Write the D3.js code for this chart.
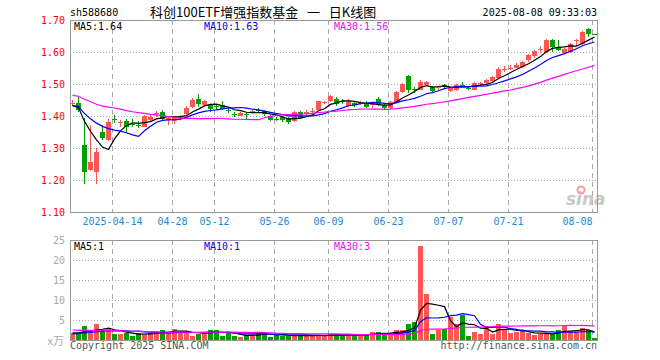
<!DOCTYPE html>
<html>
<head>
<meta charset="utf-8">
<script src="https://cdn.jsdelivr.net/npm/d3@7"></script>
<style>
  body { margin: 0; background: #fff; }
  svg { display: block; }
</style>
</head>
<body>
<svg id="chart"></svg>
<script>
// trading days shown (2025)
const dates = [
  "04-02","04-03","04-07","04-08","04-09","04-10","04-11","04-14","04-15","04-16",
  "04-17","04-18","04-21","04-22","04-23","04-24","04-25","04-28","04-29","04-30",
  "05-06","05-07","05-08","05-09","05-12","05-13","05-14","05-15","05-16","05-19",
  "05-20","05-21","05-22","05-23","05-26","05-27","05-28","05-29","05-30","06-03",
  "06-04","06-05","06-06","06-09","06-10","06-11","06-12","06-13","06-16","06-17",
  "06-18","06-19","06-20","06-23","06-24","06-25","06-26","06-27","06-30","07-01",
  "07-02","07-03","07-04","07-07","07-08","07-09","07-10","07-11","07-14","07-15",
  "07-16","07-17","07-18","07-21","07-22","07-23","07-24","07-25","07-28","07-29",
  "07-30","07-31","08-01","08-04","08-05","08-06","08-07","08-08"
];

const open = [
  1.441,1.441,1.310,1.232,1.224,1.349,1.324,1.392,1.377,1.383,
  1.376,1.373,1.367,1.388,1.408,1.413,1.388,1.385,1.392,1.405,
  1.428,1.454,1.433,1.433,1.432,1.435,1.420,1.405,1.401,1.406,
  1.416,1.418,1.415,1.400,1.392,1.398,1.394,1.383,1.413,1.407,
  1.416,1.420,1.443,1.448,1.454,1.447,1.432,1.441,1.440,1.442,
  1.434,1.454,1.433,1.424,1.441,1.474,1.526,1.483,1.482,1.498,
  1.491,1.489,1.496,1.477,1.482,1.498,1.489,1.482,1.501,1.502,
  1.508,1.520,1.545,1.550,1.551,1.554,1.576,1.588,1.608,1.600,
  1.637,1.617,1.598,1.601,1.634,1.624,1.672,1.656
];
const high = [
  1.451,1.459,1.395,1.373,1.300,1.373,1.391,1.404,1.386,1.390,
  1.391,1.383,1.404,1.404,1.416,1.418,1.397,1.400,1.404,1.430,
  1.455,1.470,1.450,1.437,1.436,1.448,1.425,1.412,1.411,1.412,
  1.420,1.424,1.420,1.402,1.397,1.400,1.396,1.415,1.416,1.418,
  1.424,1.448,1.447,1.467,1.458,1.454,1.452,1.444,1.446,1.446,
  1.443,1.458,1.437,1.446,1.477,1.503,1.528,1.490,1.512,1.508,
  1.494,1.494,1.499,1.492,1.500,1.505,1.494,1.505,1.507,1.515,
  1.525,1.552,1.556,1.558,1.566,1.572,1.595,1.607,1.618,1.640,
  1.640,1.637,1.612,1.628,1.640,1.665,1.675,1.656
];
const low = [
  1.432,1.414,1.187,1.228,1.187,1.324,1.322,1.378,1.367,1.347,
  1.367,1.362,1.365,1.385,1.398,1.385,1.372,1.375,1.386,1.402,
  1.425,1.428,1.430,1.414,1.420,1.420,1.408,1.398,1.399,1.389,
  1.410,1.412,1.401,1.384,1.385,1.382,1.375,1.381,1.392,1.404,
  1.410,1.418,1.437,1.445,1.431,1.437,1.428,1.428,1.433,1.425,
  1.424,1.432,1.422,1.422,1.438,1.472,1.472,1.473,1.480,1.495,
  1.475,1.480,1.485,1.474,1.479,1.490,1.480,1.480,1.497,1.500,
  1.506,1.518,1.538,1.543,1.549,1.550,1.570,1.582,1.598,1.597,
  1.600,1.603,1.595,1.598,1.618,1.622,1.646,1.654
];
const close = [
  1.442,1.420,1.224,1.255,1.286,1.330,1.380,1.391,1.381,1.367,
  1.375,1.372,1.401,1.397,1.409,1.392,1.393,1.396,1.399,1.425,
  1.450,1.437,1.447,1.423,1.429,1.423,1.418,1.404,1.409,1.405,
  1.417,1.417,1.405,1.388,1.391,1.388,1.380,1.413,1.394,1.413,
  1.417,1.446,1.444,1.461,1.438,1.446,1.448,1.435,1.441,1.427,
  1.441,1.435,1.425,1.444,1.476,1.501,1.482,1.481,1.505,1.505,
  1.479,1.491,1.490,1.488,1.498,1.492,1.487,1.502,1.502,1.512,
  1.521,1.548,1.547,1.551,1.559,1.568,1.590,1.602,1.609,1.638,
  1.617,1.607,1.608,1.625,1.636,1.662,1.655,1.655
];
// volume, x万
const volume = [
  1.8,1.4,3.4,2.3,3.9,2.2,3.0,1.4,1.4,1.8,
  1.0,1.8,1.3,1.8,2.2,2.4,1.8,2.8,2.0,2.0,
  1.0,1.5,1.9,2.4,2.6,1.0,1.8,1.0,0.7,1.3,
  1.2,2.0,2.0,0.8,1.2,1.0,1.1,1.3,1.0,1.1,
  1.0,1.3,1.2,1.6,1.2,1.2,1.2,1.2,1.2,1.6,
  2.0,2.1,1.4,1.5,2.6,2.6,3.9,4.5,23.4,11.4,
  1.6,2.5,2.8,5.8,3.9,6.3,1.1,2.0,1.6,3.6,
  1.6,3.9,2.6,1.8,2.0,2.2,1.8,1.2,1.5,1.6,
  1.6,2.6,3.4,2.0,2.0,2.9,2.5,0.4
];

// days before the window, only used to start the moving averages (estimated from the MA lines)
const histClose = [
  1.50,1.51,1.49,1.52,1.50,1.48,1.47,1.49,1.50,1.48,
  1.46,1.47,1.48,1.47,1.46,1.47,1.48,1.46,1.45,1.46,
  1.46,1.44,1.42,1.42,1.43,1.45,1.44,1.41,1.42
];
const histVolume = [
  3.5,2.8,4.1,3.2,2.6,3.0,3.8,2.9,2.5,3.3,
  2.7,2.4,3.1,2.8,3.6,2.6,2.9,2.3,2.7,2.7,
  1.2,1.4,1.3,1.5,1.1,1.6,2.0,1.9,1.7
];

const priceTicks = [1.10, 1.20, 1.30, 1.40, 1.50, 1.60, 1.70];
const volTicks = [5, 10, 15, 20, 25];
const tickDates = ["04-14","04-28","05-12","05-26","06-09","06-23","07-07","07-21","08-08"];
const tickLabels = ["2025-04-14","04-28","05-12","05-26","06-09","06-23","07-07","07-21","08-08"];
const priceMaText = ["MA5:1.64", "MA10:1.63", "MA30:1.56"];
const volMaText = ["MA5:1", "MA10:1", "MA30:3"];

const width = 660, height = 360;
const red = "#ff5555", green = "#00a000";
const maColors = ["#000000", "#0000ff", "#ff00ff"];
const mono = "'DejaVu Sans Mono', 'Liberation Mono', monospace";

const svg = d3.select("#chart").attr("width", width).attr("height", height);

const x = d3.scaleLinear().domain([0, dates.length]).range([70, 598]);
const y = d3.scaleLinear().domain([1.10, 1.70]).range([212, 20]);
const yv = d3.scaleLinear().domain([0, 25]).range([340, 240]);
const bw = 5;

function movingAvg(hist, vals, n) {
  const all = hist.concat(vals);
  return vals.map((v, i) => d3.mean(all.slice(i + hist.length - n + 1, i + hist.length + 1)));
}

// grid
const grid = svg.append("g").attr("stroke", "#a8a8a8").attr("stroke-width", 1);
priceTicks.slice(1, -1).forEach(t => {
  grid.append("line").attr("x1", 70).attr("x2", 597)
    .attr("y1", Math.round(y(t)) + 0.5).attr("y2", Math.round(y(t)) + 0.5)
    .attr("stroke-dasharray", "1,2");
});
volTicks.slice(0, -1).forEach(t => {
  grid.append("line").attr("x1", 70).attr("x2", 597)
    .attr("y1", Math.round(yv(t)) + 0.5).attr("y2", Math.round(yv(t)) + 0.5)
    .attr("stroke-dasharray", "1,2");
});
tickDates.forEach(d => {
  const xx = Math.round(x(dates.indexOf(d))) + 0.5;
  grid.append("line").attr("x1", xx).attr("x2", xx).attr("y1", 20).attr("y2", 212)
    .attr("stroke-dasharray", "5,4");
  grid.append("line").attr("x1", xx).attr("x2", xx).attr("y1", 240).attr("y2", 340)
    .attr("stroke-dasharray", "5,4");
});

// watermark
const wm = svg.append("g");
wm.append("text").attr("x", 566).attr("y", 205).text("sina")
  .style("font", "italic bold 17px 'DejaVu Sans'").attr("fill", "#c8c8c8");
wm.append("circle").attr("cx", 581).attr("cy", 190).attr("r", 3.5)
  .attr("fill", "none").attr("stroke", "#f2a0a0").attr("stroke-width", 2);

// candles
const candles = svg.append("g").attr("shape-rendering", "crispEdges");
dates.forEach((d, i) => {
  const c = close[i] >= open[i] ? red : green;
  const x0 = Math.round(x(i));
  candles.append("line")
    .attr("x1", x0 + 2.5).attr("x2", x0 + 2.5)
    .attr("y1", y(high[i])).attr("y2", y(low[i]))
    .attr("stroke", c);
  const top = Math.min(y(open[i]), y(close[i]));
  candles.append("rect")
    .attr("x", x0).attr("width", bw)
    .attr("y", top)
    .attr("height", Math.max(1, Math.abs(y(open[i]) - y(close[i]))))
    .attr("fill", c);
});

// volume bars
svg.append("g").attr("shape-rendering", "crispEdges")
  .selectAll("rect").data(volume).enter().append("rect")
  .attr("x", (d, i) => Math.round(x(i)))
  .attr("width", bw)
  .attr("y", d => yv(d))
  .attr("height", d => yv(0) - yv(d))
  .attr("fill", (d, i) => close[i] >= open[i] ? red : green);

// moving averages
[5, 10, 30].forEach((n, k) => {
  const pm = movingAvg(histClose, close, n);
  const vm = movingAvg(histVolume, volume, n);
  svg.append("path").datum(pm)
    .attr("d", d3.line().x((d, i) => x(i) + 2.5).y(d => y(d)))
    .attr("fill", "none").attr("stroke", maColors[k]).attr("stroke-width", 1.2);
  svg.append("path").datum(vm)
    .attr("d", d3.line().x((d, i) => x(i) + 2.5).y(d => yv(d)))
    .attr("fill", "none").attr("stroke", maColors[k]).attr("stroke-width", 1.2);
});

// frames
svg.append("rect").attr("x", 70.5).attr("y", 20.5).attr("width", 527).attr("height", 192)
  .attr("fill", "none").attr("stroke", "#999");
svg.append("rect").attr("x", 70.5).attr("y", 240.5).attr("width", 527).attr("height", 100)
  .attr("fill", "none").attr("stroke", "#999");

// axes
const yAxis = svg.append("g").attr("transform", "translate(70,0)")
  .call(d3.axisLeft(y).tickValues(priceTicks).tickSize(0).tickPadding(5).tickFormat(d3.format(".2f")));
yAxis.select(".domain").remove();
yAxis.selectAll("text").attr("fill", "#ff0000").style("font", `10px ${mono}`);

const vAxis = svg.append("g").attr("transform", "translate(70,0)")
  .call(d3.axisLeft(yv).tickValues(volTicks).tickSize(0).tickPadding(5));
vAxis.select(".domain").remove();
vAxis.selectAll("text").attr("fill", "#aaaaaa").style("font", `10px ${mono}`);

const xAxis = svg.append("g").attr("transform", "translate(0,212)")
  .call(d3.axisBottom(x)
    .tickValues(tickDates.map(d => dates.indexOf(d)))
    .tickSize(0).tickPadding(6)
    .tickFormat((d, i) => tickLabels[i]));
xAxis.select(".domain").remove();
xAxis.selectAll("text").attr("fill", "#1a8ad4").style("font", `10px ${mono}`);
// the last label would run past the frame, so it ends at its tick
xAxis.selectAll(".tick:last-of-type text").attr("text-anchor", "end");

// texts
function txt(xx, yy, s, color, anchor, font) {
  svg.append("text").attr("x", xx).attr("y", yy).text(s)
    .attr("fill", color).attr("text-anchor", anchor || "start")
    .style("font", font || `10px ${mono}`);
}
txt(70, 16, "sh588680", "#000");
txt(150, 17, "科创100ETF增强指数基金\u00a0\u00a0\u00a0一\u00a0\u00a0\u00a0日K线图", "#000", "start", "13px 'Noto Sans CJK SC'");
txt(597, 16, "2025-08-08 09:33:03", "#000", "end");
[74, 204, 334].forEach((xx, k) => {
  txt(xx, 30, priceMaText[k], maColors[k]);
  txt(xx, 250, volMaText[k], maColors[k]);
});
txt(64, 345, "x万", "#aaaaaa", "end", "11px 'Noto Sans CJK SC'");
txt(70, 349, "Copyright 2025 SINA.COM", "#555");
txt(597, 349, "http://finance.sina.com.cn", "#555", "end");
</script>
</body>
</html>
